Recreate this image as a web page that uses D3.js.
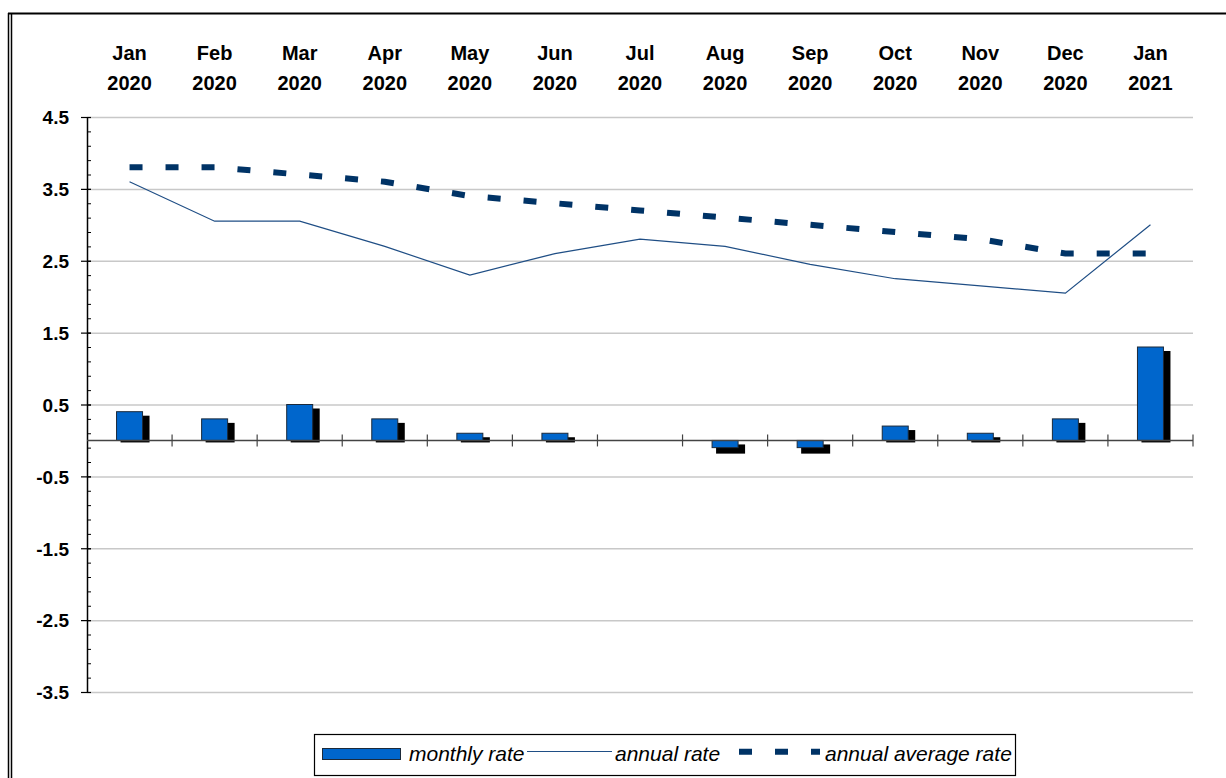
<!DOCTYPE html>
<html>
<head>
<meta charset="utf-8">
<script src="https://cdn.jsdelivr.net/npm/d3@7"></script>
<style>
  body { margin: 0; background: #fff; }
  svg { display: block; font-family: "Liberation Sans", Arial, sans-serif; }
</style>
</head>
<body>
<div id="chart"></div>
<script>
const months = ['Jan', 'Feb', 'Mar', 'Apr', 'May', 'Jun', 'Jul', 'Aug', 'Sep', 'Oct', 'Nov', 'Dec', 'Jan'];
const years = ['2020', '2020', '2020', '2020', '2020', '2020', '2020', '2020', '2020', '2020', '2020', '2020', '2021'];
const monthlyRate = [0.4, 0.3, 0.5, 0.3, 0.1, 0.1, 0, -0.1, -0.1, 0.2, 0.1, 0.3, 1.3];
const annualRate = [3.6, 3.05, 3.05, 2.7, 2.3, 2.6, 2.8, 2.7, 2.45, 2.25, 2.15, 2.05, 3.0];
const annualAvgRate = [3.8, 3.8, 3.7, 3.6, 3.4, 3.3, 3.2, 3.1, 3.0, 2.9, 2.8, 2.6, 2.6];
const yTicks = [4.5, 3.5, 2.5, 1.5, 0.5, -0.5, -1.5, -2.5, -3.5];

const width = 1226;
const height = 778;
const plot = { left: 87, right: 1193, top: 117, bottom: 692 };

const keys = months.map((m, i) => m + ' ' + years[i]);

const svg = d3.select('#chart')
    .append('svg')
    .attr('width', width)
    .attr('height', height);

// outer frame (cropped on the right and bottom)
svg.append('line').attr('x1', 8).attr('x2', width).attr('y1', 13.5).attr('y2', 13.5)
    .attr('stroke', '#000').attr('stroke-width', 2);
svg.append('line').attr('x1', 8.5).attr('x2', 8.5).attr('y1', 13).attr('y2', height)
    .attr('stroke', '#000').attr('stroke-width', 1.5);
svg.append('line').attr('x1', 11.5).attr('x2', 11.5).attr('y1', 13).attr('y2', height)
    .attr('stroke', '#000').attr('stroke-width', 1.5);

const xScale = d3.scaleBand().domain(keys).range([plot.left, plot.right]);
const yScale = d3.scaleLinear().domain([-3.5, 4.5]).range([plot.bottom, plot.top]);
const cx = (i) => xScale(keys[i]) + xScale.bandwidth() / 2;

// gridlines
svg.append('g')
    .attr('class', 'gridlines')
    .attr('transform', `translate(${plot.left}, 0)`)
    .call(d3.axisLeft(yScale).tickValues(yTicks).tickFormat('').tickSize(-(plot.right - plot.left)))
    .call((g) => g.select('.domain').remove())
    .call((g) => g.selectAll('line').attr('stroke', '#c8c8c8').attr('stroke-width', 1.5));

// month labels on top
const monthLabels = svg.append('g').attr('class', 'month-labels')
    .attr('font-size', 20).attr('font-weight', 'bold').attr('text-anchor', 'middle');
monthLabels.selectAll('text')
    .data(keys)
    .join('text')
    .each(function (d, i) {
        d3.select(this).append('tspan').attr('x', cx(i)).attr('y', 60).text(months[i]);
        d3.select(this).append('tspan').attr('x', cx(i)).attr('y', 90).text(years[i]);
    });

// y axis with minor ticks
const minor = d3.range(-3.5, 4.5001, 0.2).map((v) => Math.round(v * 10) / 10);
svg.append('g')
    .attr('transform', `translate(${plot.left}, 0)`)
    .call(d3.axisRight(yScale).tickValues(minor).tickFormat('').tickSize(4).tickSizeOuter(0))
    .call((g) => g.select('.domain').attr('stroke', '#000').attr('stroke-width', 1.5))
    .call((g) => g.selectAll('line').attr('stroke', '#000'));
svg.append('g')
    .attr('transform', `translate(${plot.left + 4}, 0)`)
    .call(d3.axisLeft(yScale).tickValues(yTicks).tickFormat((d) => d.toFixed(1)).tickSize(10).tickSizeOuter(0).tickPadding(12))
    .call((g) => g.select('.domain').remove())
    .call((g) => g.selectAll('line').attr('stroke', '#000').attr('stroke-width', 1.2))
    .call((g) => g.selectAll('text')
        .attr('fill', '#000')
        .attr('font-size', 19)
        .attr('font-weight', 'bold')
        .attr('font-family', '"Liberation Sans", Arial, sans-serif')
        .attr('dy', '0.36em'));

// bars with drop shadows
const zero = yScale(0);
const barW = 26;
const bars = svg.append('g').attr('class', 'bars');
const barData = monthlyRate.map((v, i) => ({ v, i })).filter((d) => d.v !== 0);

bars.selectAll('rect.shadow')
    .data(barData)
    .join('rect')
    .attr('class', 'shadow')
    .attr('x', (d) => cx(d.i) - barW / 2 + 4)
    .attr('width', barW + 3)
    .attr('y', (d) => d.v > 0 ? yScale(d.v) + 4 : zero + 4)
    .attr('height', (d) => d.v > 0 ? zero + 2 - yScale(d.v) - 4 : yScale(d.v) + 6 - zero - 4)
    .attr('fill', '#000');

bars.selectAll('rect.bar')
    .data(barData)
    .join('rect')
    .attr('class', 'bar')
    .attr('x', (d) => cx(d.i) - barW / 2)
    .attr('width', barW)
    .attr('y', (d) => Math.min(yScale(d.v), zero))
    .attr('height', (d) => Math.abs(yScale(d.v) - zero))
    .attr('fill', '#0066cc')
    .attr('stroke', '#1c2a3a')
    .attr('stroke-width', 1);

// category axis on zero
svg.append('g')
    .attr('transform', `translate(0, ${zero})`)
    .call((g) => g.append('line').attr('x1', plot.left).attr('x2', plot.right)
        .attr('stroke', '#444').attr('stroke-width', 1.5))
    .call((g) => g.selectAll('line.tick')
        .data(keys)
        .join('line')
        .attr('class', 'tick')
        .attr('x1', (d) => xScale(d) + xScale.bandwidth())
        .attr('x2', (d) => xScale(d) + xScale.bandwidth())
        .attr('y1', -6).attr('y2', 6)
        .attr('stroke', '#444').attr('stroke-width', 1.2));

// lines
const line = d3.line().x((d, i) => cx(i)).y((d) => yScale(d));

svg.append('path')
    .datum(annualAvgRate)
    .attr('d', line)
    .attr('fill', 'none')
    .attr('stroke', '#003366')
    .attr('stroke-width', 6)
    .attr('stroke-dasharray', '13,23');

svg.append('path')
    .datum(annualRate)
    .attr('d', line)
    .attr('fill', 'none')
    .attr('stroke', '#1f4e85')
    .attr('stroke-width', 1.2);

// legend
const legend = svg.append('g').attr('class', 'legend');
legend.append('rect')
    .attr('x', 314.5).attr('y', 734.5).attr('width', 701).attr('height', 41)
    .attr('fill', '#fff').attr('stroke', '#000').attr('stroke-width', 1.2);
legend.append('rect')
    .attr('x', 322.5).attr('y', 748.5).attr('width', 78).attr('height', 11)
    .attr('fill', '#0066cc').attr('stroke', '#1c2a3a');
legend.append('line')
    .attr('x1', 527).attr('x2', 612).attr('y1', 751.5).attr('y2', 751.5)
    .attr('stroke', '#1f4e85').attr('stroke-width', 1.2);
legend.append('line')
    .attr('x1', 739).attr('x2', 820).attr('y1', 751.7).attr('y2', 751.7)
    .attr('stroke', '#003366').attr('stroke-width', 6).attr('stroke-dasharray', '13,23');

const legendItems = [
    { label: 'monthly rate', x: 409 },
    { label: 'annual rate', x: 615 },
    { label: 'annual average rate', x: 825 },
];
legend.selectAll('text')
    .data(legendItems)
    .join('text')
    .attr('x', (d) => d.x)
    .attr('y', 761)
    .attr('font-size', 21)
    .attr('font-style', 'italic')
    .attr('fill', '#000')
    .text((d) => d.label);
</script>
</body>
</html>
